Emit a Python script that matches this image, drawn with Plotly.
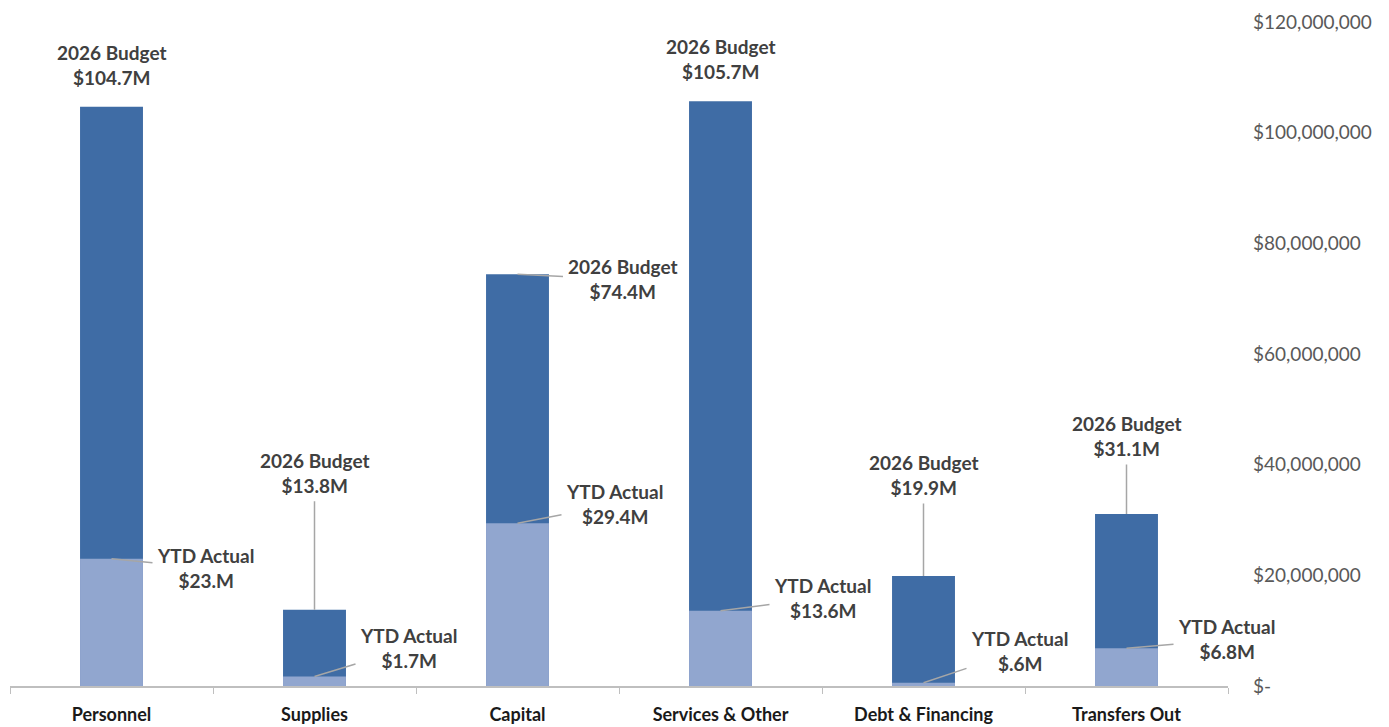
import plotly.graph_objects as go

categories = ["Personnel", "Supplies", "Capital", "Services & Other", "Debt & Financing", "Transfers Out"]
budget = [104.7e6, 13.8e6, 74.4e6, 105.7e6, 19.9e6, 31.1e6]
actual = [23.0e6, 1.7e6, 29.4e6, 13.6e6, 0.6e6, 6.8e6]
budget_labels = ["$104.7M", "$13.8M", "$74.4M", "$105.7M", "$19.9M", "$31.1M"]
actual_labels = ["$23.M", "$1.7M", "$29.4M", "$13.6M", "$.6M", "$6.8M"]
tick_vals = [0, 20e6, 40e6, 60e6, 80e6, 100e6, 120e6]
tick_text = ["$-", "$20,000,000", "$40,000,000", "$60,000,000", "$80,000,000", "$100,000,000", "$120,000,000"]

DARK = "#3F6CA5"
LIGHT = "#91A6CF"
TXT = "#404040"
FONT = "Lato"

fig = go.Figure()
fig.add_trace(go.Bar(x=categories, y=budget, marker=dict(color=DARK, line=dict(width=0)),
                     width=0.31, name="2026 Budget", hoverinfo="skip"))
fig.add_trace(go.Bar(x=categories, y=actual, marker=dict(color=LIGHT, line=dict(width=0)),
                     width=0.31, name="YTD Actual", hoverinfo="skip"))

# label placement: (ax, ay) offsets in pixels; None => plain label above bar
budget_off = [None, (0, -137), (105, 5), None, (0, -101), (0, -78)]
actual_off = [(94, 9), (94, -29), (97, -19), (102, -13), (96, -32), (100, -9)]

annotations = []
afont = dict(family=FONT, size=19, color=TXT, weight="bold")
for i, c in enumerate(categories):
    txt = "2026 Budget<br>" + budget_labels[i]
    off = budget_off[i]
    if off is None:
        annotations.append(dict(x=c, y=budget[i], text=txt, showarrow=False,
                                yanchor="bottom", yshift=16, font=afont))
    else:
        annotations.append(dict(x=c, y=budget[i], text=txt, showarrow=True, arrowhead=0,
                                arrowwidth=1.5, arrowcolor="#A6A6A6", ax=off[0], ay=off[1],
                                font=afont, standoff=0, borderpad=4))
    txt = "YTD Actual<br>" + actual_labels[i]
    off = actual_off[i]
    annotations.append(dict(x=c, y=actual[i], text=txt, showarrow=True, arrowhead=0,
                            arrowwidth=1.5, arrowcolor="#A6A6A6", ax=off[0], ay=off[1],
                            font=afont, standoff=0, borderpad=4))

fig.update_layout(
    barmode="overlay",
    width=1381, height=719,
    margin=dict(l=2, r=161, t=12, b=41),
    paper_bgcolor="white", plot_bgcolor="white",
    showlegend=False,
    annotations=annotations,
    xaxis=dict(range=[-0.5, len(categories) - 0.5], autorange=False,
               showline=True, linecolor="#BFBFBF", linewidth=1.5,
               ticks="outside", tickson="boundaries", ticklen=6, tickcolor="#BFBFBF",
               tickfont=dict(family=FONT, size=18, color="#1A1A1A", weight="bold"),
               ticklabelstandoff=12,
               showgrid=False, zeroline=False, fixedrange=True),
    yaxis=dict(side="right", range=[0, 120e6], autorange=False,
               tickvals=tick_vals, ticktext=tick_text,
               showgrid=False, zeroline=False, showline=False,
               tickfont=dict(family=FONT, size=19, color="#595959"),
               ticklabeloverflow="allow",
               ticklabelstandoff=24, fixedrange=True),
)

fig.write_html("out.html")
